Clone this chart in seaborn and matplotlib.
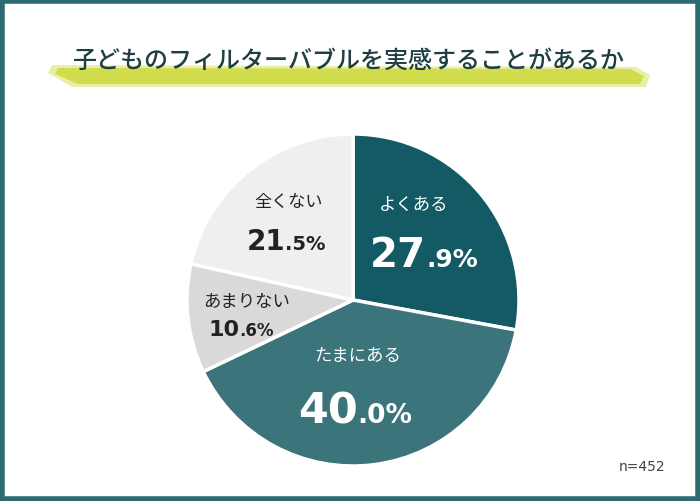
import matplotlib
matplotlib.use("Agg")
import matplotlib.pyplot as plt
import seaborn as sns
import numpy as np
from matplotlib.patches import Polygon, Rectangle

sns.set_theme(style="white")
plt.rcParams['font.family'] = ['Noto Sans CJK JP', 'DejaVu Sans']

title = "子どものフィルターバブルを実感することがあるか"
categories = ["よくある", "たまにある", "あまりない", "全くない"]
values = [27.9, 40.0, 10.6, 21.5]
int_parts = ["27", "40", "10", "21"]
dec_parts = [".9%", ".0%", ".6%", ".5%"]
colors = ["#135a64", "#3b747b", "#d9d9d9", "#efefef"]
text_colors = ["white", "white", "#222222", "#222222"]
note = "n=452"

W, H = 700, 502
fig = plt.figure(figsize=(7.0, 5.02), dpi=100)
fig.patch.set_facecolor("white")

# background layer: brush highlight
bg = fig.add_axes([0, 0, 1, 1])
bg.set_xlim(0, W); bg.set_ylim(H, 0); bg.axis("off")
bg.add_patch(Polygon([(52, 66), (636, 68), (650, 76), (646, 88), (72, 88), (48, 74)],
                     closed=True, facecolor="#d6e04e", edgecolor="none", alpha=0.5))
bg.add_patch(Polygon([(58, 69), (630, 70), (644, 77), (640, 85), (78, 85), (55, 75)],
                     closed=True, facecolor="#cbd936", edgecolor="none", alpha=0.8))

# pie
cx, cy, r = 353, 301, 166
ax = fig.add_axes([(cx - r) / W, (H - cy - r) / H, 2 * r / W, 2 * r / H])
ax.pie(values, colors=colors, startangle=90, counterclock=False,
       wedgeprops=dict(edgecolor="white", linewidth=2.5))
ax.set_xlim(-1, 1); ax.set_ylim(-1, 1); ax.set_aspect("auto")

# overlay layer for texts and frame
ov = fig.add_axes([0, 0, 1, 1])
ov.set_xlim(0, W); ov.set_ylim(H, 0); ov.axis("off")
ov.patch.set_alpha(0)
ov.add_patch(Rectangle((2, 2), W - 4, H - 4, fill=False, edgecolor="#2b6a72", linewidth=4))
ov.text(349, 61, title, ha="center", va="center", fontsize=17.3, color="#1e3e42",
        fontweight="medium")
ov.text(642, 467, note, ha="center", va="center", fontsize=10, color="#444444",
        family=["DejaVu Sans"])

fig.canvas.draw()
renderer = fig.canvas.get_renderer()

layout = [
    dict(cat=(414, 205), cs=12.5, num=(424, 253), ns=29, ds=18),
    dict(cat=(358, 356), cs=12.5, num=(355, 408), ns=31, ds=19),
    dict(cat=(247, 302), cs=12.5, num=(241, 328), ns=16, ds=12),
    dict(cat=(289, 202), cs=12.3, num=(286, 240), ns=20, ds=14),
]
for i, cat in enumerate(categories):
    L = layout[i]
    ov.text(L["cat"][0], L["cat"][1], cat, ha="center", va="center",
            fontsize=L["cs"], color=text_colors[i])
    t1 = ov.text(0, 0, int_parts[i], fontsize=L["ns"], fontweight="bold",
                 family=["DejaVu Sans"], color=text_colors[i])
    t2 = ov.text(0, 0, dec_parts[i], fontsize=L["ds"], fontweight="bold",
                 family=["DejaVu Sans"], color=text_colors[i])
    w1 = t1.get_window_extent(renderer).width
    w2 = t2.get_window_extent(renderer).width
    x0 = L["num"][0] - (w1 + w2) / 2
    base = L["num"][1] + L["ns"] * 100 / 72 * 0.36
    t1.set_position((x0, base)); t1.set_va("baseline"); t1.set_ha("left")
    t2.set_position((x0 + w1, base)); t2.set_va("baseline"); t2.set_ha("left")

fig.savefig("out.png", dpi=100, facecolor="white")
